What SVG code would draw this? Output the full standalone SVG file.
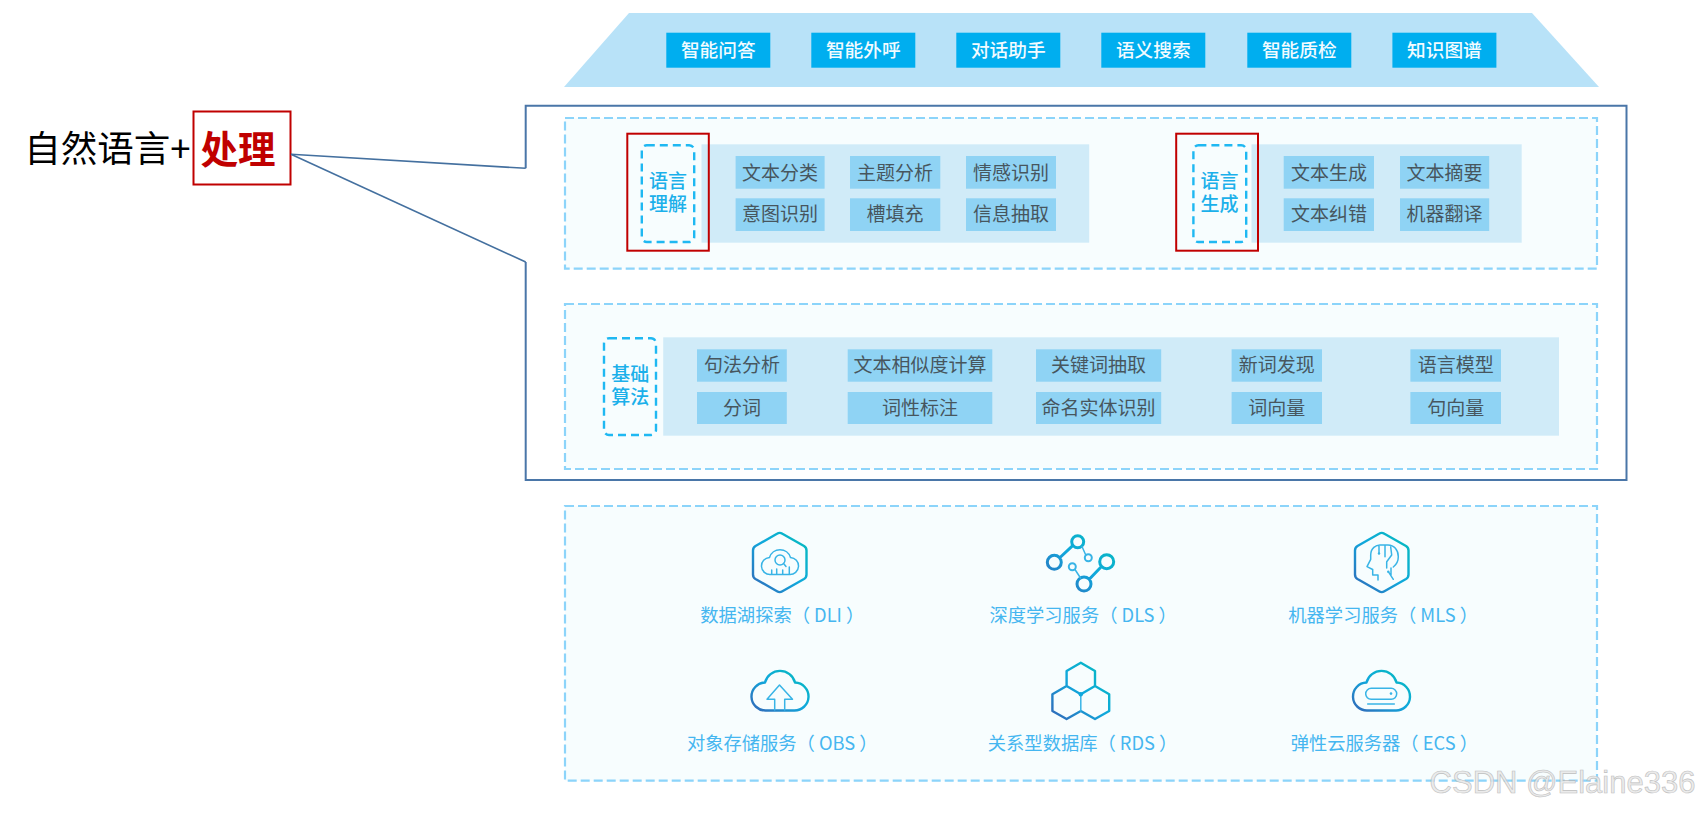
<svg xmlns="http://www.w3.org/2000/svg" width="1699" height="814" viewBox="0 0 1699 814">
<style>
text{font-family:"Noto Sans CJK SC","Noto Sans",sans-serif;text-anchor:middle;dominant-baseline:central}
.panel{fill:#f7fdfe;stroke:#8cd4fa;stroke-width:2.2;stroke-dasharray:9 4}
.tag{fill:none;stroke:#1fb8f2;stroke-width:2.4;stroke-dasharray:8 5}
.band{fill:#d0ebf8}
.chip{fill:#8fd3f4}
.chipt{font-size:19px;fill:#47565e}
.app{fill:#00aeef}
.appt{font-size:18.7px;fill:#f2fbff;font-weight:500}
.tagt{font-size:19px;fill:#1bb0ea;font-weight:500}
.red{fill:none;stroke:#c00000;stroke-width:2}
.lab{font-size:18.3px;fill:#45b6f0;text-anchor:start}
.ico{fill:none;stroke:url(#g);stroke-width:2.4;stroke-linejoin:round;stroke-linecap:round}
.inn{fill:none;stroke:#38b4e6;stroke-width:1.5;stroke-linejoin:round;stroke-linecap:round}
.lead{fill:none;stroke:#44709f;stroke-width:1.6}
</style>
<defs>
<linearGradient id="g" x1="0" y1="1" x2="1" y2="0"><stop offset="0" stop-color="#3268b8"/><stop offset=".5" stop-color="#10a8dc"/><stop offset="1" stop-color="#05bcbc"/></linearGradient>
<path id="cloud" d="M766 710.5A14 14 0 0 1 765 682.5A15.5 15.5 0 0 1 795 682.5A14 14 0 0 1 794 710.5Z"/>
<path id="hex" d="M777 533.8Q779.7 532 782.4 533.8L804 546Q806.5 547.5 806.5 550.5V574.5Q806.5 577.5 804 579L782.4 591.2Q779.7 593 777 591.2L755.5 579Q753 577.5 753 574.5V550.5Q753 547.5 755.5 546Z"/>
</defs>
<rect width="1699" height="814" fill="#fff"/>
<g id="apps">
<polygon points="629,13 1532,13 1599,87 564,87" fill="#b8e2f8"/>
<g id="app1"><rect class="app" x="666.3" y="32.7" width="104" height="35"/><text class="appt" x="718.3" y="48">智能问答</text></g>
<g id="app2"><rect class="app" x="811.3" y="32.7" width="104" height="35"/><text class="appt" x="863.3" y="48">智能外呼</text></g>
<g id="app3"><rect class="app" x="956.3" y="32.7" width="104" height="35"/><text class="appt" x="1008.3" y="48">对话助手</text></g>
<g id="app4"><rect class="app" x="1101.3" y="32.7" width="104" height="35"/><text class="appt" x="1153.3" y="48">语义搜索</text></g>
<g id="app5"><rect class="app" x="1247.3" y="32.7" width="104" height="35"/><text class="appt" x="1299.3" y="48">智能质检</text></g>
<g id="app6"><rect class="app" x="1392.4" y="32.7" width="104" height="35"/><text class="appt" x="1444.4" y="48">知识图谱</text></g>
</g>
<g id="title">
<text x="107.5" y="146" style="font-size:36.5px;fill:#000">自然语言+</text>
<rect class="red" x="193.5" y="111.5" width="97" height="73"/>
<text x="238" y="146" style="font-size:37.5px;font-weight:700;fill:#c00000">处理</text>
</g>
<g id="callout-box">
<path d="M525.7 168.3V105.7H1626.5V480H525.7V262" fill="none" stroke="#4a76a8" stroke-width="2"/>
</g>
<g id="connectors">
<line class="lead" x1="291" y1="154.3" x2="525.7" y2="168.3"/>
<line class="lead" x1="291" y1="154.3" x2="525.7" y2="262"/>
</g>
<g id="panel-nlu">
<rect class="panel" x="565" y="118" width="1032" height="150.7"/>
<g id="understand">
<rect class="band" x="701.5" y="144.3" width="387.7" height="98.4"/>
<rect class="tag" x="641.8" y="145.3" width="52.4" height="96.7" rx="5"/>
<text class="tagt"><tspan x="668" y="179">语言</tspan><tspan x="668" y="202">理解</tspan></text>
<rect class="red" x="627.3" y="133.7" width="81.5" height="117"/>
<rect class="chip" x="735.6" y="156" width="89" height="32.7"/><text class="chipt" x="780" y="171">文本分类</text>
<rect class="chip" x="850" y="156" width="90.3" height="32.7"/><text class="chipt" x="895" y="171">主题分析</text>
<rect class="chip" x="966" y="156" width="90" height="32.7"/><text class="chipt" x="1011" y="171">情感识别</text>
<rect class="chip" x="735.6" y="198.3" width="89" height="32.7"/><text class="chipt" x="780" y="212.5">意图识别</text>
<rect class="chip" x="850" y="198.3" width="90.3" height="32.7"/><text class="chipt" x="895" y="212.5">槽填充</text>
<rect class="chip" x="966" y="198.3" width="90" height="32.7"/><text class="chipt" x="1011" y="212.5">信息抽取</text>
</g>
<g id="generate">
<rect class="band" x="1251.5" y="144.3" width="270.2" height="98.4"/>
<rect class="tag" x="1193.4" y="145.3" width="52.8" height="96.7" rx="5"/>
<text class="tagt"><tspan x="1219.4" y="179">语言</tspan><tspan x="1219.4" y="202">生成</tspan></text>
<rect class="red" x="1176.2" y="133.7" width="81.8" height="117"/>
<rect class="chip" x="1283.7" y="156" width="90.3" height="32.7"/><text class="chipt" x="1329" y="171">文本生成</text>
<rect class="chip" x="1400" y="156" width="89.2" height="32.7"/><text class="chipt" x="1444.6" y="171">文本摘要</text>
<rect class="chip" x="1283.7" y="198.3" width="90.3" height="32.7"/><text class="chipt" x="1329" y="212.5">文本纠错</text>
<rect class="chip" x="1400" y="198.3" width="89.2" height="32.7"/><text class="chipt" x="1444.6" y="212.5">机器翻译</text>
</g>
</g>
<g id="panel-base">
<rect class="panel" x="565" y="304" width="1032" height="165"/>
<rect class="band" x="663.2" y="337.3" width="895.8" height="98.4"/>
<rect class="tag" x="604" y="338.3" width="52" height="96.7" rx="5"/>
<text class="tagt"><tspan x="630.3" y="372">基础</tspan><tspan x="630.3" y="395">算法</tspan></text>
<rect class="chip" x="697" y="349.3" width="89.8" height="32.4"/><text class="chipt" x="742" y="363.5">句法分析</text>
<rect class="chip" x="847.7" y="349.3" width="144.6" height="32.4"/><text class="chipt" x="920" y="363.5">文本相似度计算</text>
<rect class="chip" x="1036" y="349.3" width="125.2" height="32.4"/><text class="chipt" x="1098.6" y="363.5">关键词抽取</text>
<rect class="chip" x="1231.6" y="349.3" width="90.4" height="32.4"/><text class="chipt" x="1276.8" y="363.5">新词发现</text>
<rect class="chip" x="1410.4" y="349.3" width="90.6" height="32.4"/><text class="chipt" x="1455.7" y="363.5">语言模型</text>
<rect class="chip" x="697" y="392" width="89.8" height="32"/><text class="chipt" x="742" y="406">分词</text>
<rect class="chip" x="847.7" y="392" width="144.6" height="32"/><text class="chipt" x="920" y="406">词性标注</text>
<rect class="chip" x="1036" y="392" width="125.2" height="32"/><text class="chipt" x="1098.6" y="406">命名实体识别</text>
<rect class="chip" x="1231.6" y="392" width="90.4" height="32"/><text class="chipt" x="1276.8" y="406">词向量</text>
<rect class="chip" x="1410.4" y="392" width="90.6" height="32"/><text class="chipt" x="1455.7" y="406">句向量</text>
</g>
<g id="panel-services">
<rect class="panel" x="565" y="506" width="1032" height="274.7"/>
<g id="dli">
<use href="#hex" class="ico"/>
<path class="inn" d="M770.5 574.5A8.5 8.5 0 0 1 769.5 557.5A11 11 0 0 1 790.5 557.5A8.5 8.5 0 0 1 789.5 574.5Z"/>
<circle class="inn" cx="780" cy="560" r="5"/>
<path class="inn" d="M784 564L786 566.5M771.7 574V570M776.7 574V569M782.7 574V570M789.3 574V567"/>
<text class="lab" x="700.3" y="613.5">数据湖探索（ DLI ）</text>
</g>
<g id="dls">
<path class="ico" style="stroke-width:3" d="M1083.7 541.7A6 6 0 1 1 1071.7 541.7A6 6 0 1 1 1083.7 541.7ZM1061.3 562.3A7 7 0 1 1 1047.3 562.3A7 7 0 1 1 1061.3 562.3ZM1113.7 561.7A7 7 0 1 1 1099.7 561.7A7 7 0 1 1 1113.7 561.7ZM1091 584A7 7 0 1 1 1077 584A7 7 0 1 1 1091 584ZM1072.7 545.7L1060 557.5M1101.5 566.5L1089.5 579"/>
<circle class="inn" style="stroke-width:2" cx="1088.3" cy="557.7" r="3.5"/>
<circle class="inn" style="stroke-width:2" cx="1072.3" cy="566.7" r="3.5"/>
<path class="inn" d="M1082 546.5L1085.5 554.5M1075 569.5L1080.5 578"/>
<text class="lab" x="989.5" y="613.5">深度学习服务（ DLS ）</text>
</g>
<g id="mls">
<use href="#hex" class="ico" transform="translate(602 0)"/>
<path class="inn" d="M1378 580V575H1372.7V569.5L1367 566.7L1370.7 559.3V555C1370.7 548 1376 545 1380 545H1388C1394 545 1398.3 550 1398.3 556.7C1398.3 561 1397 564 1393.3 567M1379 546V553.5M1385 545V556.7M1390.7 547L1391.7 555L1386.7 561.7V568M1393.3 579.3L1388.3 571.7M1391 575V568"/>
<circle cx="1379" cy="553.5" r="1.2" fill="#38b4e6"/>
<circle cx="1388.3" cy="571.7" r="1.2" fill="#38b4e6"/>
<text class="lab" x="1288.3" y="613.5">机器学习服务（ MLS ）</text>
</g>
<g id="obs">
<use href="#cloud" class="ico"/>
<path class="inn" d="M774.7 710V699.3H767L779.5 685L792.5 699.3H784.7V710"/>
<text class="lab" x="686.9" y="741.5">对象存储服务（ OBS ）</text>
</g>
<g id="rds">
<path class="ico" d="M1080.8 662.7L1095 671V686L1080.8 694.3L1066.6 686V671ZM1066.6 686L1052.4 694.3V711L1066.6 719L1080.8 711L1095 719L1109.2 711V694.3L1095 686"/>
<path class="inn" d="M1080.8 694.3V711"/>
<circle cx="1080.8" cy="694.3" r="2.2" fill="#10a8dc"/>
<text class="lab" x="987.8" y="741.5">关系型数据库（ RDS ）</text>
</g>
<g id="ecs">
<use href="#cloud" class="ico" transform="translate(601.5 0)"/>
<rect class="inn" x="1365.7" y="688.3" width="31" height="11" rx="5.5"/>
<circle cx="1391" cy="693.6" r="1.3" fill="#38b4e6"/>
<path class="inn" d="M1367.7 704H1394.3"/>
<text class="lab" x="1290.7" y="741.5">弹性云服务器（ ECS ）</text>
</g>
</g>
<g id="watermark">
<text x="1562.5" y="782.5" style="font-family:'Liberation Sans',sans-serif;font-size:31px;fill:#e8e8e8;stroke:#b4b4b4;stroke-width:.6;opacity:.85">CSDN @Elaine336</text>
</g>
</svg>
